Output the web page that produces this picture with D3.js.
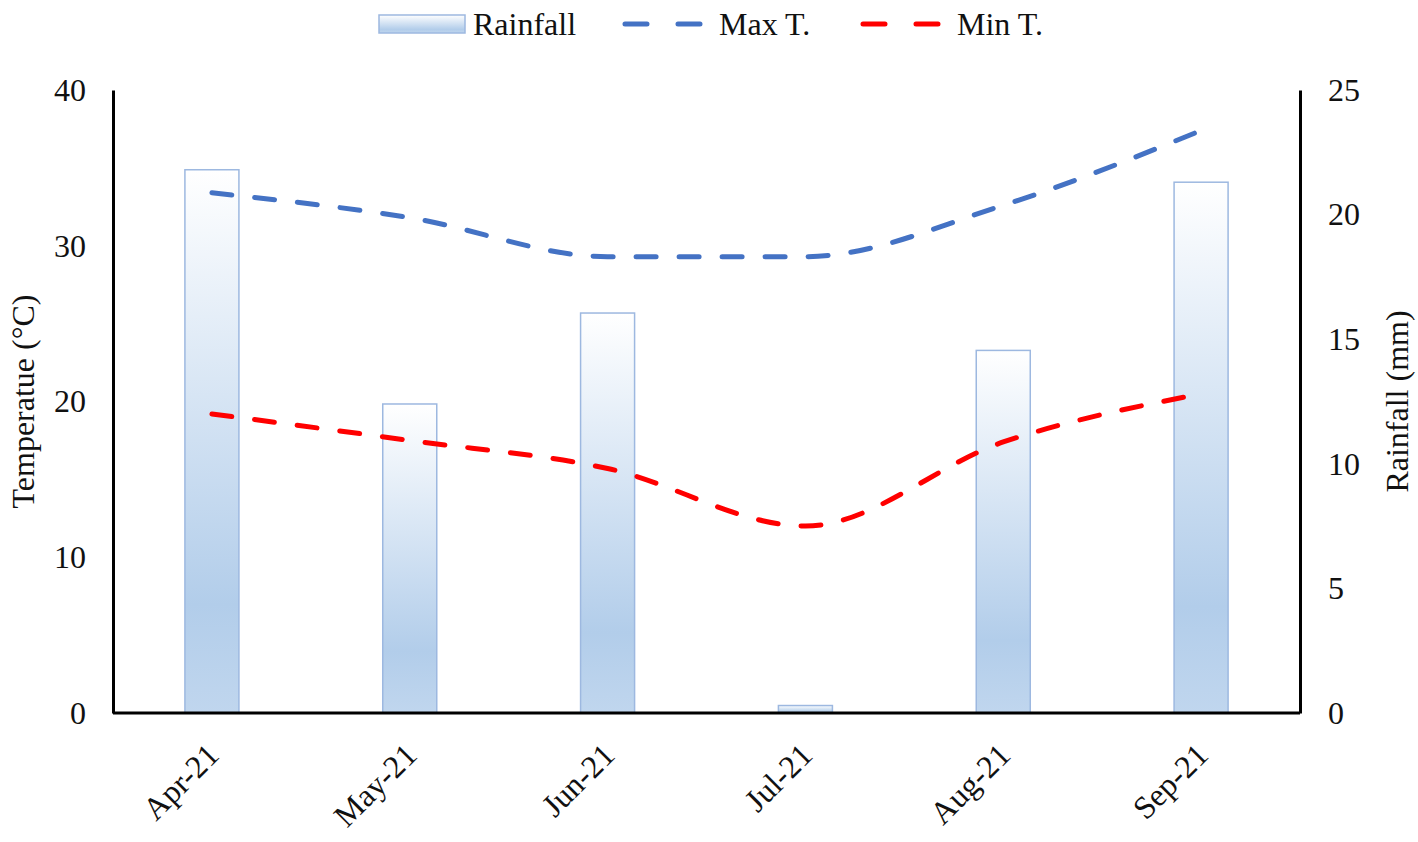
<!DOCTYPE html>
<html>
<head>
<meta charset="utf-8">
<script src="https://cdn.jsdelivr.net/npm/d3@7"></script>
<style>
  body { margin: 0; background: #fff; }
  svg text { font-family: "Liberation Serif", "Times New Roman", serif; fill: #111; }
</style>
</head>
<body>
<svg id="chart" width="1418" height="842"></svg>
<script>
// data
const months = ['Apr-21', 'May-21', 'Jun-21', 'Jul-21', 'Aug-21', 'Sep-21'];
const rainfall = [21.8, 12.4, 16.05, 0.3, 14.55, 21.3];
const maxT = [33.4, 31.8, 29.3, 29.3, 32.6, 37.4];
const minT = [19.2, 17.5, 15.7, 12.0, 17.4, 20.5];
const tempTicks = [0, 10, 20, 30, 40];
const rainTicks = [0, 5, 10, 15, 20, 25];

const WIDTH = 1418;
const HEIGHT = 842;
const plotLeft = 113, plotRight = 1300, plotTop = 90, plotBottom = 713;

const svg = d3.select('#chart');

const defs = svg.append('defs');
const grad = defs.append('linearGradient')
  .attr('id', 'rainGrad')
  .attr('x1', 0).attr('y1', 0).attr('x2', 0).attr('y2', 1);
grad.append('stop').attr('offset', '0%').attr('stop-color', '#ffffff');
grad.append('stop').attr('offset', '80%').attr('stop-color', '#b2cdea');
grad.append('stop').attr('offset', '100%').attr('stop-color', '#c0d6ee');

// scales
const xScale = d3.scaleBand()
  .domain(months)
  .range([plotLeft, plotRight])
  .paddingInner(0.727)
  .paddingOuter(0.3635);
const yTemp = d3.scaleLinear().domain([0, 40]).range([plotBottom, plotTop]);
const yRain = d3.scaleLinear().domain([0, 25]).range([plotBottom, plotTop]);
const cx = d => xScale(d) + xScale.bandwidth() / 2;

// bars (rainfall, right axis)
svg.append('g').selectAll('rect')
  .data(months)
  .enter()
  .append('rect')
  .attr('x', d => xScale(d))
  .attr('y', (d, i) => yRain(rainfall[i]))
  .attr('width', xScale.bandwidth())
  .attr('height', (d, i) => yRain(0) - yRain(rainfall[i]))
  .attr('fill', 'url(#rainGrad)')
  .attr('stroke', '#9db8e0')
  .attr('stroke-width', 1.5);

// temperature lines (smoothed like the spreadsheet)
const line = d3.line()
  .x((d, i) => cx(months[i]))
  .y(d => yTemp(d))
  .curve(d3.curveMonotoneX);

svg.append('path')
  .datum(maxT)
  .attr('d', line)
  .attr('fill', 'none')
  .attr('stroke', '#4472c4')
  .attr('stroke-width', 5)
  .attr('stroke-linecap', 'round')
  .attr('stroke-dasharray', '20,23');

svg.append('path')
  .datum(minT)
  .attr('d', line)
  .attr('fill', 'none')
  .attr('stroke', '#ff0000')
  .attr('stroke-width', 5)
  .attr('stroke-linecap', 'round')
  .attr('stroke-dasharray', '20,23');

// axes
const bottomAxis = d3.axisBottom(xScale).tickSize(0).tickPadding(0);
const gx = svg.append('g')
  .attr('transform', 'translate(0,' + plotBottom + ')')
  .call(bottomAxis);
gx.select('.domain').attr('stroke', '#000').attr('stroke-width', 3)
  .attr('d', 'M' + plotLeft + ',0H' + plotRight);
gx.selectAll('text')
  .attr('font-size', 32)
  .attr('font-family', '"Liberation Serif", serif')
  .attr('fill', '#111')
  .attr('text-anchor', 'end')
  .attr('dy', null)
  .attr('y', 0)
  .attr('transform', 'translate(9,44) rotate(-45)');

const leftAxis = d3.axisLeft(yTemp).tickValues(tempTicks).tickSize(0).tickPadding(27);
const gl = svg.append('g')
  .attr('transform', 'translate(' + plotLeft + ',0)')
  .call(leftAxis);
gl.select('.domain').attr('stroke', '#000').attr('stroke-width', 3);
gl.selectAll('text').attr('font-size', 32)
  .attr('font-family', '"Liberation Serif", serif').attr('fill', '#111');

const rightAxis = d3.axisRight(yRain).tickValues(rainTicks).tickSize(0).tickPadding(28);
const gr = svg.append('g')
  .attr('transform', 'translate(' + plotRight + ',0)')
  .call(rightAxis);
gr.select('.domain').attr('stroke', '#000').attr('stroke-width', 3);
gr.selectAll('text').attr('font-size', 32)
  .attr('font-family', '"Liberation Serif", serif').attr('fill', '#111');

// axis titles
svg.append('text')
  .attr('transform', 'translate(34,' + ((plotTop + plotBottom) / 2) + ') rotate(-90)')
  .attr('text-anchor', 'middle')
  .attr('font-size', 32)
  .text('Temperatue (°C)');

svg.append('text')
  .attr('transform', 'translate(1408,' + ((plotTop + plotBottom) / 2) + ') rotate(-90)')
  .attr('text-anchor', 'middle')
  .attr('font-size', 32)
  .text('Rainfall (mm)');

// legend
const lg = svg.append('g');
lg.append('rect')
  .attr('x', 379).attr('y', 15).attr('width', 86).attr('height', 18)
  .attr('fill', 'url(#rainGrad)')
  .attr('stroke', '#9db8e0').attr('stroke-width', 1.5);
lg.append('text').attr('x', 473).attr('y', 35).attr('font-size', 32).text('Rainfall');

lg.append('line')
  .attr('x1', 625).attr('x2', 700).attr('y1', 24).attr('y2', 24)
  .attr('stroke', '#4472c4').attr('stroke-width', 5)
  .attr('stroke-linecap', 'round').attr('stroke-dasharray', '22,31');
lg.append('text').attr('x', 719).attr('y', 35).attr('font-size', 32).text('Max T.');

lg.append('line')
  .attr('x1', 863).attr('x2', 938).attr('y1', 24).attr('y2', 24)
  .attr('stroke', '#ff0000').attr('stroke-width', 5)
  .attr('stroke-linecap', 'round').attr('stroke-dasharray', '22,31');
lg.append('text').attr('x', 957).attr('y', 35).attr('font-size', 32).text('Min T.');
</script>
</body>
</html>
